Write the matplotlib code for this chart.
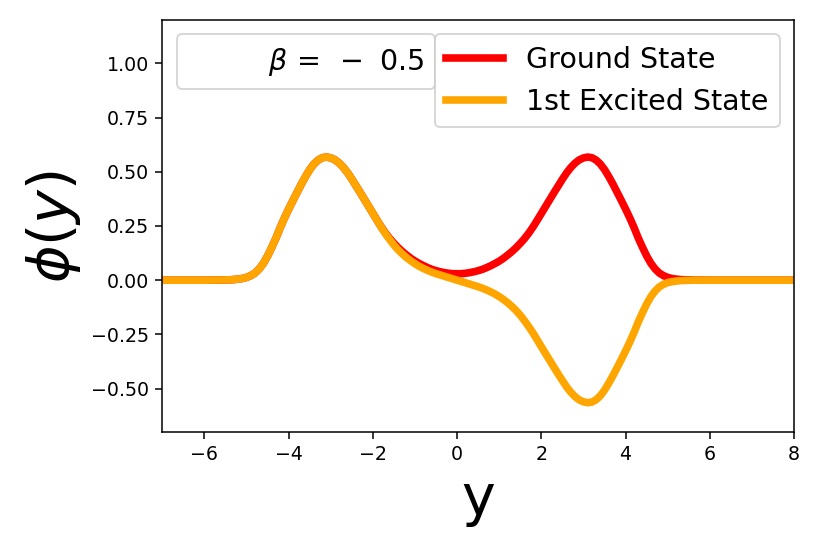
import matplotlib
matplotlib.use('Agg')
import matplotlib.pyplot as plt

# sample positions along y
y_left = [-7, -6, -5.6,
          -5.4, -5.3, -5.2, -5.1, -5.0, -4.9, -4.8, -4.7, -4.6, -4.5,
          -4.4, -4.3, -4.2, -4.1, -4.0, -3.9, -3.8, -3.7, -3.6, -3.5,
          -3.4, -3.3, -3.2, -3.1, -3.0, -2.9, -2.8, -2.7, -2.6, -2.5,
          -2.4, -2.3, -2.2, -2.1, -2.0, -1.9, -1.8, -1.7, -1.6, -1.5,
          -1.4, -1.3, -1.2, -1.1, -1.0, -0.9, -0.8, -0.7, -0.6, -0.5,
          -0.4, -0.3, -0.2, -0.1]
y_right = [0.0,
           0.1, 0.2, 0.3, 0.4, 0.5, 0.6, 0.7, 0.8, 0.9, 1.0,
           1.1, 1.2, 1.3, 1.4, 1.5, 1.6, 1.7, 1.8, 1.9, 2.0,
           2.1, 2.2, 2.3, 2.4, 2.5, 2.6, 2.7, 2.8, 2.9, 3.0,
           3.1, 3.2, 3.3, 3.4, 3.5, 3.6, 3.7, 3.8, 3.9, 4.0,
           4.1, 4.2, 4.3, 4.4, 4.5, 4.6, 4.7, 4.8, 4.9, 5.0,
           5.1, 5.2, 5.3, 5.4,
           5.6, 6, 7, 8]

# ground state
ground_left = [0.0, 0.0, 0.001,
               0.002, 0.003, 0.005, 0.008, 0.013, 0.021, 0.033, 0.052, 0.078, 0.112,
               0.152, 0.195, 0.243, 0.287, 0.328, 0.367, 0.405, 0.443, 0.478, 0.510,
               0.536, 0.554, 0.565, 0.568, 0.564, 0.555, 0.540, 0.520, 0.495, 0.466,
               0.435, 0.404, 0.372, 0.340, 0.308, 0.276, 0.245, 0.217, 0.192, 0.170,
               0.150, 0.132, 0.116, 0.101, 0.088, 0.077, 0.067, 0.058, 0.050, 0.044,
               0.039, 0.035, 0.032, 0.030]
ground_right = [0.030,
                0.030, 0.032, 0.035, 0.039, 0.044, 0.050, 0.058, 0.067, 0.077, 0.088,
                0.101, 0.116, 0.132, 0.150, 0.170, 0.192, 0.217, 0.245, 0.276, 0.308,
                0.340, 0.372, 0.404, 0.435, 0.466, 0.495, 0.520, 0.540, 0.555, 0.564,
                0.568, 0.565, 0.554, 0.536, 0.510, 0.478, 0.443, 0.405, 0.367, 0.328,
                0.287, 0.243, 0.195, 0.152, 0.112, 0.078, 0.052, 0.033, 0.021, 0.013,
                0.008, 0.005, 0.003, 0.002,
                0.001, 0.0, 0.0, 0.0]

# first excited state
excited_left = [0.0, 0.0, 0.001,
                0.002, 0.003, 0.005, 0.008, 0.013, 0.021, 0.033, 0.052, 0.078, 0.112,
                0.152, 0.195, 0.243, 0.287, 0.328, 0.367, 0.405, 0.443, 0.478, 0.510,
                0.536, 0.554, 0.565, 0.568, 0.564, 0.555, 0.540, 0.520, 0.495, 0.466,
                0.435, 0.404, 0.372, 0.340, 0.308, 0.276, 0.243, 0.214, 0.187, 0.162,
                0.140, 0.121, 0.104, 0.089, 0.076, 0.064, 0.054, 0.045, 0.037, 0.030,
                0.024, 0.018, 0.012, 0.006]
excited_right = [0.0,
                 -0.006, -0.012, -0.018, -0.024, -0.030, -0.037, -0.045, -0.054, -0.064, -0.076,
                 -0.089, -0.104, -0.121, -0.140, -0.162, -0.187, -0.214, -0.243, -0.275, -0.307,
                 -0.339, -0.370, -0.402, -0.433, -0.463, -0.492, -0.517, -0.537, -0.552, -0.561,
                 -0.565, -0.562, -0.551, -0.533, -0.507, -0.475, -0.440, -0.403, -0.365, -0.326,
                 -0.285, -0.241, -0.193, -0.150, -0.110, -0.076, -0.050, -0.031, -0.019, -0.011,
                 -0.007, -0.004, -0.002, -0.001,
                 0.0, 0.0, 0.0, 0.0]

beta_label = r'$\beta\,{=}\;\:{-}\;\;0.5$'
labels = ['Ground State', '1st Excited State']

y = y_left + y_right
ground = ground_left + ground_right
excited = excited_left + excited_right

fig = plt.figure(figsize=(6, 4), dpi=137)
ax = fig.add_subplot(111)
fig.subplots_adjust(left=0.1975, right=0.966, bottom=0.2117, top=0.9635)

l1, = ax.plot(y, ground, color='red', lw=4, label=labels[0])
l2, = ax.plot(y, excited, color='orange', lw=4, label=labels[1])

# legend holding only the beta value
dummy, = ax.plot([], [], ' ', label=beta_label)
leg1 = ax.legend(handles=[dummy], loc='upper left', fontsize=15)
ax.add_artist(leg1)
ax.legend(handles=[l1, l2], loc='upper right', fontsize=15)

ax.set_xlim(-7, 8)
ax.set_ylim(-0.7, 1.2)
ax.set_xticks([-6, -4, -2, 0, 2, 4, 6, 8])
ax.set_yticks([-0.5, -0.25, 0, 0.25, 0.5, 0.75, 1.0])
ax.set_xlabel('y', fontsize=30)
ax.set_ylabel(r'$\phi(y)$', fontsize=30)

plt.savefig('out.png', dpi=137)
